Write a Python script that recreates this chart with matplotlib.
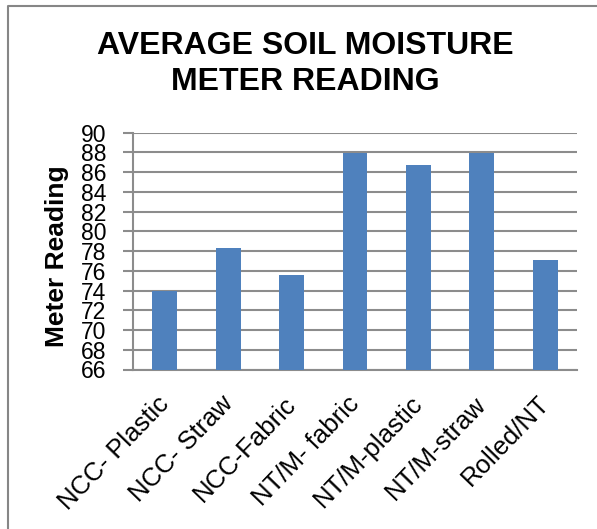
import numpy as np
import matplotlib.pyplot as plt
import matplotlib.transforms as mtransforms
from matplotlib.lines import Line2D

plt.rcParams['font.family'] = ['Liberation Sans', 'DejaVu Sans']

# Données
treatments = ["NCC- Plastic", "NCC- Straw", "NCC-Fabric", "NT/M- fabric",
              "NT/M-plastic", "NT/M-straw", "Rolled/NT"]
readings = [74.0, 78.3, 75.6, 87.9, 86.7, 87.9, 77.1]
y_ticks = list(range(66, 91, 2))

W, H = 597, 529
fig = plt.figure(figsize=(W / 100, H / 100), dpi=100)
ax = fig.add_axes([133 / W, 1 - 369.5 / H, 444 / W, 236.8 / H])

x = np.arange(len(treatments))
ax.bar(x, readings, width=0.39, color="#4F81BD", zorder=3)

ax.set_ylim(66, 90)
ax.set_xlim(-0.5, len(treatments) - 0.5)
ax.set_yticks(y_ticks)
ax.set_yticklabels([str(t) for t in y_ticks], fontsize=16.5)
ax.yaxis.grid(True, color="#8c8c8c", linewidth=1.5, zorder=0)
ax.tick_params(axis="y", length=7, width=1.5, color="#8c8c8c", pad=12)
ax.tick_params(axis="x", length=0, pad=16)

ax.set_xticks(x)
ax.set_xticklabels(treatments, rotation=46, ha="right",
                   rotation_mode="anchor", fontsize=18.5)
shift = mtransforms.ScaledTranslation(-8 / 100, 0, fig.dpi_scale_trans)
for lbl in ax.get_xticklabels():
    lbl.set_transform(lbl.get_transform() + shift)

for side in ["top", "right"]:
    ax.spines[side].set_visible(False)
for side in ["left", "bottom"]:
    ax.spines[side].set_color("#8c8c8c")
    ax.spines[side].set_linewidth(1.5)

fig.text(57 / W, 1 - 256 / H, "Meter Reading", rotation=90, fontsize=19,
         fontweight="bold", ha="center", va="center")
fig.text(305 / W, 1 - 64 / H, "AVERAGE SOIL MOISTURE\nMETER READING",
         fontsize=23, fontweight="bold", ha="center", va="center",
         linespacing=1.3)

# Cadre du graphique (bords gauche et haut)
fig.add_artist(Line2D([8 / W, 8 / W, 596 / W], [0, 1 - 6 / H, 1 - 6 / H],
                      transform=fig.transFigure, color="#868686", linewidth=1.5))

fig.savefig("out.png", dpi=100)
